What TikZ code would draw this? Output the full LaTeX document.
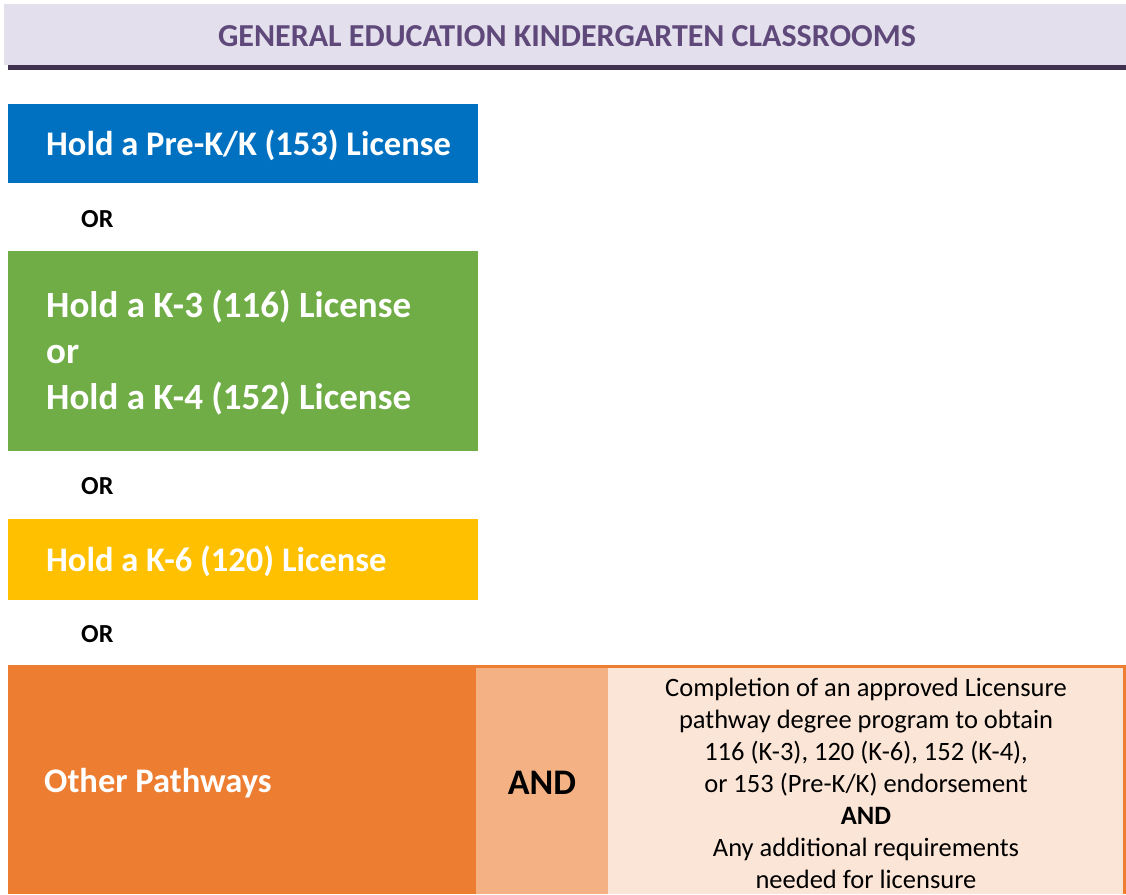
\documentclass[tikz,border=0pt]{standalone}
\usepackage{fontspec}
\setmainfont{Carlito}
\definecolor{lav}{HTML}{E4DFEC}
\definecolor{darkpurple}{HTML}{403151}
\definecolor{titlec}{HTML}{5F497A}
\definecolor{blueb}{HTML}{0070C0}
\definecolor{greenb}{HTML}{70AD47}
\definecolor{yellowb}{HTML}{FFC000}
\definecolor{orangeb}{HTML}{ED7D31}
\definecolor{orangemid}{HTML}{F4B183}
\definecolor{orangelight}{HTML}{FBE5D6}
\begin{document}
\begin{tikzpicture}[x=1pt,y=-1pt,
  box/.style={inner sep=0pt, outer sep=0pt},
  lic/.style={anchor=west, text=white, font=\bfseries\fontsize{34.5}{46}\selectfont, align=left, inner sep=0pt},
  orlabel/.style={anchor=west, font=\bfseries\fontsize{26}{30}\selectfont, inner sep=0pt},
  reqtext/.style={font=\fontsize{26.5}{32}\selectfont, align=center, inner sep=0pt}]
\useasboundingbox (0,0) rectangle (1126,894);
% title
\fill[lav] (4,4) rectangle (1126,65);
\fill[darkpurple] (8,65) rectangle (1126,70);
\node[box, text=titlec, font=\bfseries\fontsize{32}{36}\selectfont] (title) at (567,36) {GENERAL EDUCATION KINDERGARTEN CLASSROOMS};
% blue
\fill[blueb] (8,104) rectangle (478,183);
\node[lic] (b1) at (46,145) {Hold a Pre-K/K (153) License};
\node[orlabel] (or1) at (81,219) {OR};
% green
\fill[greenb] (8,251) rectangle (478,451);
\node[lic, font=\bfseries\fontsize{37}{46}\selectfont] (b2) at (46,353) {Hold a K-3 (116) License\\or\\Hold a K-4 (152) License};
\node[orlabel] (or2) at (81,486) {OR};
% yellow
\fill[yellowb] (8,519) rectangle (478,600);
\node[lic] (b3) at (46,561) {Hold a K-6 (120) License};
\node[orlabel] (or3) at (81,634) {OR};
% orange row
\fill[orangeb] (8,665) rectangle (1126,894);
\fill[orangemid] (476,668) rectangle (608,894);
\fill[orangelight] (608,668) rectangle (1123,894);
\node[lic] (b4) at (44,783) {Other Pathways};
\node[box, font=\bfseries\fontsize{36}{40}\selectfont] (and) at (542,783) {AND};
\node[reqtext] (req) at (866,783) {Completion of an approved Licensure\\pathway degree program to obtain\\116 (K-3), 120 (K-6), 152 (K-4),\\or 153 (Pre-K/K) endorsement\\\textbf{AND}\\Any additional requirements\\needed for licensure};
\end{tikzpicture}
\end{document}
